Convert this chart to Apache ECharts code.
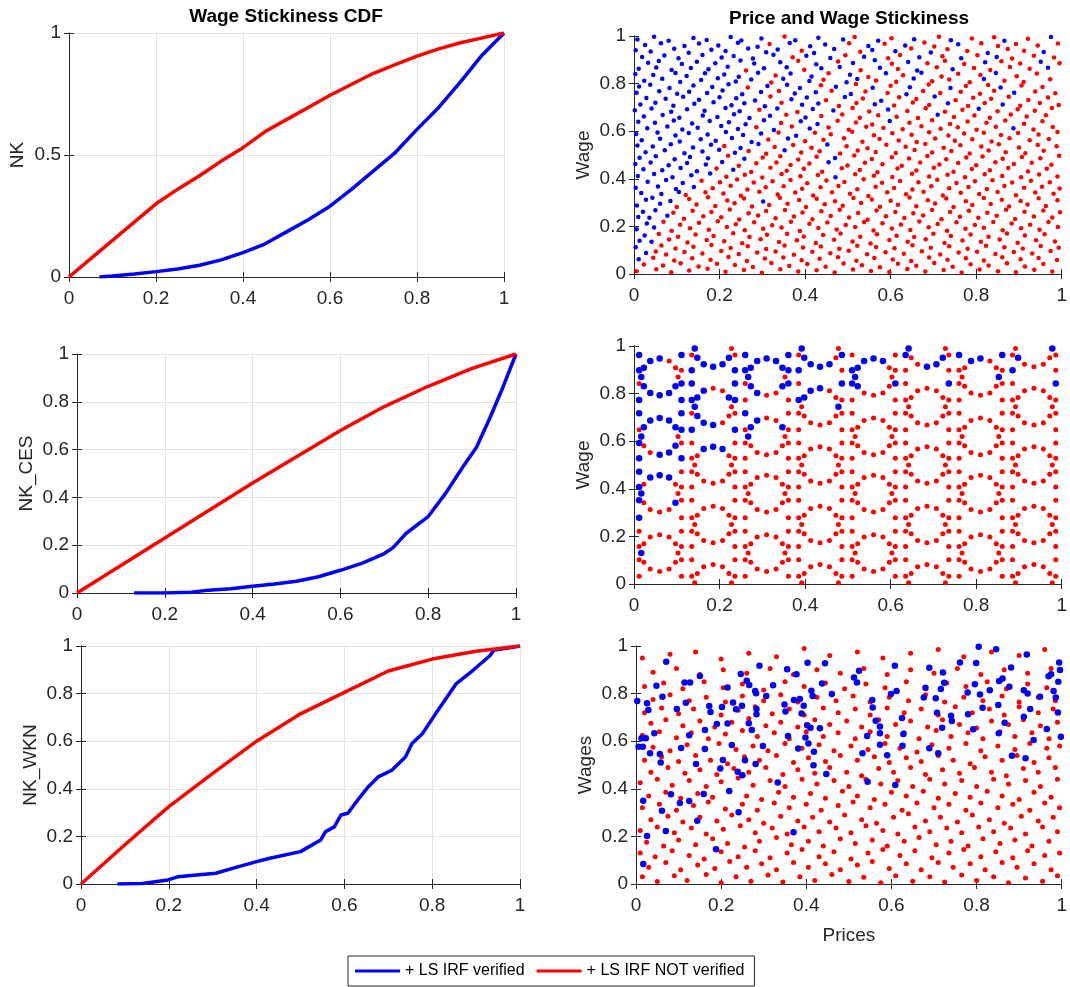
<!DOCTYPE html>
<html>
<head>
<meta charset="utf-8">
<title>Wage Stickiness</title>
<script src="https://cdn.jsdelivr.net/npm/echarts/dist/echarts.min.js"></script>
<style>
html, body { margin: 0; padding: 0; background: #ffffff; }
#chart { width: 1070px; height: 987px; }
</style>
</head>
<body>
<div id="chart"></div>
<script>
/* ---- tick labels ---- */
var ticksFine = [0, 0.2, 0.4, 0.6, 0.8, 1];
var ticksNK = [0, 0.5, 1];

/* ---- CDF curves (left column) ---- */
var nkBlueX = [0.07,0.1,0.15,0.2,0.25,0.3,0.35,0.4,0.45,0.5,0.55,0.6,0.65,0.7,0.75,0.8,0.85,0.9,0.95,1];
var nkBlueY = [0,0.004,0.012,0.022,0.033,0.048,0.07,0.1,0.135,0.185,0.235,0.29,0.36,0.435,0.51,0.605,0.695,0.8,0.91,1];
var nkRedX = [0,0.05,0.1,0.15,0.2,0.25,0.3,0.35,0.4,0.45,0.5,0.55,0.6,0.65,0.7,0.75,0.8,0.85,0.9,0.95,1];
var nkRedY = [0,0.075,0.15,0.225,0.3,0.36,0.415,0.475,0.53,0.595,0.645,0.695,0.745,0.79,0.835,0.87,0.905,0.935,0.96,0.98,1];

var cesBlueX = [0.13,0.2,0.26,0.3,0.35,0.4,0.45,0.5,0.55,0.6,0.65,0.7,0.72,0.75,0.8,0.84,0.88,0.91,0.94,0.97,1];
var cesBlueY = [0,0,0.003,0.012,0.018,0.028,0.038,0.049,0.068,0.095,0.125,0.165,0.19,0.25,0.32,0.418,0.53,0.61,0.73,0.86,1];
var cesRedX = [0,0.1,0.2,0.3,0.4,0.5,0.6,0.7,0.8,0.9,1];
var cesRedY = [0,0.115,0.23,0.345,0.46,0.57,0.68,0.78,0.865,0.94,1];

var wknBlueX = [0.083,0.14,0.198,0.22,0.307,0.353,0.4,0.43,0.5,0.546,0.557,0.577,0.592,0.608,0.63,0.654,0.677,0.708,0.739,0.754,0.778,0.808,0.855,0.893,0.932,0.94,1];
var wknBlueY = [0,0.002,0.017,0.03,0.045,0.07,0.094,0.108,0.136,0.185,0.22,0.24,0.29,0.297,0.352,0.408,0.45,0.478,0.534,0.59,0.632,0.716,0.842,0.898,0.96,0.982,1];
var wknRedX = [0,0.1,0.2,0.3,0.4,0.5,0.6,0.7,0.8,0.9,1];
var wknRedY = [0,0.165,0.325,0.465,0.6,0.715,0.805,0.895,0.945,0.978,1];

/* ---- scatter: price and wage stickiness, NK  [price, wage, verified] ---- */
var pwNK = [
[.008,.985,1],[.047,.997,1],[.081,.98,1],[.139,.992,1],[.17,.983,1],[.226,.996,1],[.251,.981,1],[.298,.99,1],[.352,.998,0],[.377,.982,1],[.431,.993,1],[.489,.985,1],[.516,.996,0],[.571,.98,1],[.602,.991,0],[.655,.986,1],[.713,.997,0],[.741,.982,1],[.79,.99,0],[.842,.995,0],[.866,.98,1],[.921,.988,0],[.975,.996,1],
[.026,.962,1],[.063,.97,1],[.118,.958,1],[.152,.968,1],[.197,.96,1],[.243,.972,1],[.289,.955,1],[.317,.966,0],[.364,.971,1],[.412,.957,1],[.447,.964,1],[.503,.97,0],[.548,.958,1],[.586,.967,0],[.634,.96,1],[.679,.973,0],[.702,.956,0],[.758,.965,1],[.812,.97,0],[.851,.958,0],[.893,.966,0],[.944,.96,0],[.991,.968,0],
[.004,.94,1],[.039,.935,1],[.094,.946,1],[.128,.93,1],[.181,.942,1],[.214,.937,1],[.267,.948,1],[.309,.932,1],[.336,.943,1],[.392,.938,0],[.421,.929,1],[.468,.945,1],[.529,.934,0],[.557,.941,1],[.611,.936,1],[.648,.947,0],[.694,.931,1],[.733,.944,0],[.779,.937,0],[.827,.929,1],[.874,.945,0],[.912,.938,0],[.958,.933,1],
[.019,.912,1],[.071,.918,1],[.104,.907,1],[.16,.92,1],[.205,.91,1],[.233,.916,1],[.278,.905,1],[.326,.921,1],[.371,.911,0],[.403,.917,1],[.459,.908,1],[.494,.919,0],[.538,.913,1],[.594,.906,0],[.622,.92,0],[.667,.911,1],[.721,.915,0],[.765,.907,1],[.803,.919,0],[.848,.912,1],[.884,.905,0],[.935,.917,0],[.982,.91,0],
[.033,.888,1],[.058,.895,1],[.112,.882,1],[.147,.892,1],[.19,.886,1],[.249,.897,1],[.281,.884,1],[.342,.89,1],[.384,.896,0],[.426,.881,1],[.477,.893,0],[.512,.887,1],[.563,.898,1],[.603,.883,0],[.641,.891,1],[.686,.885,0],[.727,.896,0],[.772,.882,0],[.821,.89,1],[.859,.894,0],[.903,.884,0],[.951,.892,1],[.995,.886,0],
[.011,.862,1],[.052,.868,1],[.088,.857,1],[.133,.866,1],[.174,.86,1],[.219,.871,1],[.262,.855,0],[.304,.865,1],[.357,.869,1],[.398,.858,0],[.438,.864,1],[.481,.87,1],[.53,.856,0],[.575,.867,1],[.617,.861,0],[.662,.855,1],[.708,.869,0],[.745,.86,1],[.795,.866,0],[.833,.857,0],[.879,.87,0],[.925,.862,0],[.968,.867,1],
[.003,.84,1],[.045,.836,1],[.097,.845,1],[.123,.832,1],[.166,.843,1],[.211,.838,1],[.245,.829,1],[.29,.846,1],[.331,.834,0],[.366,.842,1],[.415,.83,1],[.455,.844,0],[.505,.837,1],[.548,.828,0],[.589,.843,1],[.629,.835,0],[.672,.846,1],[.719,.83,0],[.758,.841,0],[.81,.836,0],[.846,.845,1],[.895,.831,0],[.942,.842,0],
[.024,.812,1],[.066,.82,1],[.108,.807,1],[.157,.815,1],[.196,.822,1],[.238,.809,1],[.274,.817,1],[.321,.805,0],[.349,.82,1],[.41,.811,1],[.443,.816,0],[.497,.806,1],[.522,.819,1],[.566,.813,0],[.613,.808,0],[.654,.821,1],[.697,.81,0],[.737,.817,0],[.785,.806,0],[.818,.819,1],[.866,.812,0],[.911,.807,0],[.973,.818,0],
[.012,.788,1],[.038,.795,1],[.083,.782,1],[.139,.792,1],[.183,.786,1],[.221,.797,1],[.266,.784,0],[.312,.79,1],[.358,.795,1],[.388,.781,1],[.437,.793,0],[.472,.787,1],[.519,.798,0],[.558,.783,1],[.6,.791,0],[.645,.785,1],[.689,.796,0],[.74,.782,1],[.776,.79,0],[.828,.794,0],[.857,.784,1],[.906,.792,0],[.955,.786,0],
[.006,.762,1],[.059,.768,1],[.101,.757,1],[.129,.766,1],[.171,.76,1],[.207,.771,1],[.253,.755,1],[.297,.765,1],[.339,.769,0],[.376,.758,1],[.425,.764,1],[.462,.77,0],[.507,.756,1],[.541,.767,0],[.593,.761,0],[.637,.755,1],[.676,.769,0],[.716,.76,0],[.764,.766,0],[.809,.757,0],[.842,.77,0],[.889,.762,1],[.938,.767,0],[.985,.759,0],
[.029,.74,1],[.074,.736,1],[.115,.745,1],[.152,.732,1],[.2,.743,1],[.239,.738,1],[.283,.729,1],[.319,.746,0],[.368,.734,1],[.404,.742,1],[.449,.73,0],[.493,.744,1],[.535,.737,0],[.578,.728,1],[.62,.743,0],[.66,.735,0],[.703,.746,1],[.752,.73,0],[.793,.741,0],[.835,.736,0],[.876,.745,0],[.922,.731,0],[.968,.742,0],
[.015,.712,1],[.05,.72,1],[.092,.707,1],[.141,.715,1],[.186,.722,1],[.228,.709,1],[.258,.717,1],[.306,.705,1],[.345,.72,0],[.393,.711,1],[.431,.716,1],[.479,.706,0],[.52,.719,0],[.563,.713,1],[.608,.708,0],[.652,.721,0],[.69,.71,0],[.734,.717,1],[.781,.706,0],[.82,.719,0],[.862,.712,1],[.903,.707,0],[.949,.718,0],[.993,.71,0],
[.002,.688,1],[.041,.695,1],[.087,.682,1],[.124,.692,1],[.165,.686,1],[.214,.697,1],[.247,.684,1],[.293,.69,0],[.335,.695,1],[.382,.681,0],[.418,.693,1],[.466,.687,1],[.511,.698,0],[.55,.683,0],[.594,.691,1],[.639,.685,0],[.682,.696,0],[.727,.682,0],[.768,.69,0],[.806,.694,1],[.85,.684,0],[.897,.692,0],[.937,.686,0],[.977,.697,0],
[.023,.662,1],[.067,.668,1],[.106,.657,1],[.161,.666,1],[.195,.66,1],[.234,.671,1],[.27,.655,1],[.318,.665,1],[.356,.669,0],[.401,.658,1],[.438,.664,0],[.487,.67,0],[.528,.656,0],[.571,.667,0],[.614,.661,0],[.664,.655,0],[.71,.669,1],[.748,.66,0],[.796,.666,0],[.832,.657,0],[.881,.67,0],[.918,.662,0],[.963,.667,0],
[.01,.64,1],[.049,.636,1],[.093,.645,1],[.136,.632,1],[.177,.643,1],[.222,.638,1],[.261,.629,1],[.304,.646,1],[.344,.634,0],[.39,.642,1],[.429,.63,1],[.476,.644,0],[.519,.637,0],[.557,.628,0],[.598,.643,1],[.644,.635,0],[.697,.646,0],[.739,.63,0],[.78,.641,0],[.824,.636,0],[.868,.645,0],[.912,.631,0],[.955,.642,0],
[.031,.612,1],[.078,.62,1],[.113,.607,1],[.149,.615,1],[.204,.622,1],[.243,.609,1],[.286,.617,0],[.327,.605,1],[.369,.62,0],[.411,.611,1],[.455,.616,0],[.502,.606,0],[.543,.619,0],[.583,.613,0],[.628,.608,0],[.672,.621,0],[.717,.61,0],[.757,.617,0],[.801,.606,0],[.846,.619,0],[.887,.612,1],[.934,.607,0],[.979,.618,0],
[.005,.588,1],[.055,.595,1],[.097,.582,1],[.128,.592,1],[.172,.586,1],[.215,.597,1],[.255,.584,1],[.297,.59,1],[.338,.595,0],[.379,.581,1],[.423,.593,0],[.46,.587,0],[.51,.598,0],[.561,.583,0],[.604,.591,0],[.649,.585,0],[.69,.596,0],[.735,.582,0],[.772,.59,0],[.818,.594,0],[.858,.584,0],[.898,.592,0],[.946,.586,0],[.99,.597,0],
[.018,.562,1],[.061,.568,1],[.107,.557,1],[.156,.566,1],[.191,.56,1],[.229,.571,1],[.275,.555,1],[.314,.565,0],[.36,.569,1],[.4,.558,0],[.443,.564,0],[.491,.57,0],[.534,.556,0],[.574,.567,0],[.619,.561,0],[.661,.555,0],[.704,.569,0],[.75,.56,0],[.791,.566,0],[.836,.557,0],[.878,.57,0],[.925,.562,0],[.97,.567,0],
[.008,.54,1],[.044,.536,1],[.086,.545,1],[.138,.532,1],[.18,.543,1],[.211,.538,0],[.249,.529,1],[.291,.546,1],[.329,.534,0],[.372,.542,0],[.415,.53,0],[.452,.544,1],[.497,.537,0],[.546,.528,0],[.59,.543,0],[.635,.535,0],[.681,.546,0],[.724,.53,0],[.763,.541,0],[.812,.536,0],[.853,.545,0],[.9,.531,0],[.944,.542,0],[.988,.537,0],
[.027,.512,1],[.072,.52,1],[.118,.507,1],[.16,.515,1],[.199,.522,1],[.236,.509,1],[.268,.517,0],[.309,.505,0],[.352,.52,1],[.391,.511,0],[.434,.516,0],[.482,.506,0],[.523,.519,0],[.565,.513,0],[.612,.508,0],[.656,.521,0],[.697,.51,0],[.742,.517,0],[.785,.506,0],[.829,.519,0],[.869,.512,0],[.915,.507,0],[.958,.518,0],
[.013,.488,1],[.051,.495,1],[.095,.482,1],[.131,.492,1],[.173,.486,1],[.22,.497,0],[.258,.484,1],[.301,.49,0],[.342,.495,0],[.384,.481,0],[.427,.493,0],[.47,.487,1],[.515,.498,0],[.556,.483,0],[.603,.491,0],[.643,.485,0],[.686,.496,0],[.73,.482,0],[.777,.49,0],[.815,.494,0],[.862,.484,0],[.907,.492,0],[.95,.486,0],[.994,.497,0],
[.003,.462,1],[.039,.468,1],[.081,.457,1],[.124,.466,1],[.168,.46,1],[.206,.471,1],[.245,.455,0],[.286,.465,0],[.333,.469,0],[.366,.458,0],[.41,.464,0],[.455,.47,1],[.499,.456,0],[.54,.467,0],[.581,.461,0],[.626,.455,0],[.669,.469,0],[.714,.46,0],[.758,.466,0],[.8,.457,0],[.845,.47,0],[.888,.462,0],[.93,.467,0],[.976,.459,0],
[.022,.44,1],[.066,.436,1],[.109,.445,1],[.147,.432,1],[.193,.443,0],[.232,.438,1],[.274,.429,0],[.319,.446,0],[.357,.434,0],[.397,.442,0],[.44,.43,0],[.486,.444,0],[.528,.437,0],[.569,.428,0],[.616,.443,0],[.66,.435,0],[.701,.446,0],[.747,.43,0],[.79,.441,0],[.832,.436,0],[.875,.445,0],[.921,.431,0],[.965,.442,0],
[.009,.412,1],[.047,.42,1],[.09,.407,1],[.134,.415,1],[.178,.422,1],[.216,.409,0],[.259,.417,0],[.3,.405,0],[.345,.42,0],[.389,.411,0],[.43,.416,0],[.471,.406,1],[.517,.419,0],[.561,.413,0],[.604,.408,0],[.65,.421,0],[.69,.41,0],[.733,.417,0],[.774,.406,0],[.82,.419,0],[.861,.412,0],[.905,.407,0],[.947,.418,0],[.99,.41,0],
[.032,.388,1],[.075,.395,1],[.114,.382,1],[.158,.392,0],[.201,.386,0],[.241,.397,0],[.28,.384,0],[.324,.39,0],[.366,.395,0],[.405,.381,0],[.45,.393,0],[.492,.387,0],[.537,.398,0],[.58,.383,0],[.622,.391,0],[.665,.385,0],[.709,.396,0],[.754,.382,0],[.797,.39,0],[.838,.394,0],[.884,.384,0],[.928,.392,0],[.972,.386,0],
[.004,.362,1],[.056,.368,1],[.098,.357,1],[.14,.366,1],[.184,.36,0],[.226,.371,0],[.265,.355,0],[.308,.365,0],[.35,.369,0],[.393,.358,0],[.436,.364,0],[.478,.37,0],[.522,.356,0],[.565,.367,0],[.608,.361,0],[.651,.355,0],[.695,.369,0],[.737,.36,0],[.782,.366,0],[.825,.357,0],[.866,.37,0],[.912,.362,0],[.954,.367,0],[.995,.359,0],
[.017,.34,1],[.064,.336,1],[.105,.345,1],[.121,.332,0],[.167,.343,0],[.209,.338,0],[.25,.329,0],[.293,.346,0],[.336,.334,0],[.377,.342,0],[.419,.33,0],[.463,.344,0],[.505,.337,0],[.548,.328,0],[.592,.343,0],[.636,.335,0],[.677,.346,0],[.722,.33,0],[.764,.341,0],[.807,.336,0],[.85,.345,0],[.893,.331,0],[.938,.342,0],[.981,.337,0],
[.028,.312,1],[.043,.32,1],[.085,.307,1],[.129,.315,0],[.173,.322,0],[.218,.309,0],[.257,.317,0],[.302,.305,1],[.341,.32,0],[.386,.311,0],[.427,.316,0],[.47,.306,0],[.513,.319,0],[.556,.313,0],[.6,.308,0],[.644,.321,0],[.687,.31,0],[.73,.317,0],[.776,.306,0],[.818,.319,0],[.86,.312,0],[.904,.307,0],[.946,.318,0],[.99,.31,0],
[.007,.288,1],[.061,.295,1],[.1,.282,0],[.146,.292,0],[.19,.286,0],[.235,.297,0],[.276,.284,0],[.316,.29,0],[.359,.295,0],[.402,.281,0],[.446,.293,0],[.488,.287,0],[.531,.298,0],[.575,.283,0],[.617,.291,0],[.66,.285,0],[.704,.296,0],[.747,.282,0],[.791,.29,0],[.834,.294,0],[.877,.284,0],[.92,.292,0],[.963,.286,0],
[.021,.262,1],[.05,.268,1],[.092,.257,0],[.137,.266,0],[.181,.26,0],[.224,.271,0],[.268,.255,0],[.309,.265,0],[.353,.269,0],[.394,.258,0],[.438,.264,0],[.481,.27,0],[.524,.256,0],[.567,.267,0],[.611,.261,0],[.653,.255,0],[.697,.269,0],[.739,.26,0],[.783,.266,0],[.826,.257,0],[.87,.27,0],[.913,.262,0],[.957,.267,0],[.996,.259,0],
[.01,.24,1],[.036,.236,1],[.078,.245,1],[.117,.232,0],[.162,.243,0],[.204,.238,0],[.246,.229,0],[.29,.246,0],[.331,.234,0],[.374,.242,0],[.417,.23,0],[.46,.244,0],[.503,.237,0],[.546,.228,0],[.589,.243,0],[.632,.235,0],[.676,.246,0],[.719,.23,0],[.762,.241,0],[.805,.236,0],[.848,.245,0],[.891,.231,0],[.935,.242,0],[.978,.237,0],
[.03,.212,1],[.069,.22,0],[.108,.207,0],[.152,.215,0],[.196,.222,0],[.238,.209,0],[.281,.217,0],[.323,.205,0],[.367,.22,0],[.41,.211,0],[.452,.216,0],[.495,.206,0],[.538,.219,0],[.581,.213,0],[.624,.208,0],[.667,.221,0],[.71,.21,0],[.754,.217,0],[.797,.206,0],[.84,.219,0],[.883,.212,0],[.926,.207,0],[.969,.218,0],
[.006,.188,1],[.047,.195,1],[.088,.182,0],[.131,.192,0],[.175,.186,0],[.217,.197,0],[.259,.184,0],[.302,.19,0],[.345,.195,0],[.388,.181,0],[.431,.193,0],[.474,.187,0],[.517,.198,0],[.56,.183,0],[.603,.191,0],[.646,.185,0],[.689,.196,0],[.732,.182,0],[.775,.19,0],[.818,.194,0],[.862,.184,0],[.905,.192,0],[.948,.186,0],[.991,.197,0],
[.025,.162,1],[.058,.168,0],[.103,.157,0],[.144,.166,0],[.186,.16,0],[.232,.171,0],[.27,.155,0],[.311,.165,0],[.358,.169,0],[.397,.158,0],[.442,.164,0],[.483,.17,0],[.529,.156,0],[.568,.167,0],[.614,.161,0],[.655,.155,0],[.7,.169,0],[.741,.16,0],[.787,.166,0],[.829,.157,0],[.872,.17,0],[.914,.162,0],[.96,.167,0],
[.013,.14,1],[.041,.136,1],[.082,.145,0],[.125,.132,0],[.17,.143,0],[.211,.138,0],[.253,.129,0],[.296,.146,0],[.339,.134,0],[.381,.142,0],[.425,.13,0],[.468,.144,0],[.511,.137,0],[.553,.128,0],[.597,.143,0],[.64,.135,0],[.682,.146,0],[.726,.13,0],[.768,.141,0],[.811,.136,0],[.855,.145,0],[.897,.131,0],[.94,.142,0],[.984,.137,0],
[.004,.112,1],[.064,.12,0],[.097,.107,0],[.139,.115,0],[.181,.122,0],[.226,.109,0],[.266,.117,0],[.309,.105,0],[.352,.12,0],[.395,.111,0],[.437,.116,0],[.48,.106,0],[.522,.119,0],[.566,.113,0],[.609,.108,0],[.651,.121,0],[.694,.11,0],[.737,.117,0],[.78,.106,0],[.823,.119,0],[.866,.112,0],[.909,.107,0],[.951,.118,0],[.993,.11,0],
[.028,.088,1],[.051,.095,0],[.075,.082,0],[.118,.092,0],[.16,.086,0],[.204,.097,0],[.245,.084,0],[.288,.09,0],[.331,.095,0],[.374,.081,0],[.417,.093,0],[.459,.087,0],[.502,.098,0],[.545,.083,0],[.588,.091,0],[.631,.085,0],[.673,.096,0],[.716,.082,0],[.759,.09,0],[.802,.094,0],[.845,.084,0],[.888,.092,0],[.931,.086,0],[.974,.097,0],
[.011,.062,1],[.045,.068,0],[.094,.057,0],[.136,.066,0],[.179,.06,0],[.221,.071,0],[.264,.055,0],[.306,.065,0],[.349,.069,0],[.392,.058,0],[.434,.064,0],[.477,.07,0],[.52,.056,0],[.562,.067,0],[.605,.061,0],[.648,.055,0],[.69,.069,0],[.733,.06,0],[.776,.066,0],[.818,.057,0],[.861,.07,0],[.904,.062,0],[.946,.067,0],[.989,.059,0],
[.023,.04,0],[.068,.036,0],[.109,.045,0],[.151,.032,0],[.194,.043,0],[.236,.038,0],[.278,.029,0],[.321,.046,0],[.363,.034,0],[.405,.042,0],[.448,.03,0],[.49,.044,0],[.533,.037,0],[.575,.028,0],[.617,.043,0],[.66,.035,0],[.702,.046,0],[.745,.03,0],[.787,.041,0],[.829,.036,0],[.872,.045,0],[.914,.031,0],[.957,.042,0],
[.006,.012,0],[.052,.02,0],[.087,.007,0],[.129,.015,0],[.172,.022,0],[.214,.009,0],[.257,.017,0],[.299,.005,0],[.342,.02,0],[.384,.011,0],[.427,.016,0],[.469,.006,0],[.512,.019,0],[.554,.013,0],[.597,.008,0],[.639,.021,0],[.681,.01,0],[.724,.017,0],[.766,.006,0],[.808,.019,0],[.851,.012,0],[.893,.007,0],[.936,.018,0],[.978,.01,0]
];

/* ---- scatter: NK_CES rings and clusters  [price, wage, verified] ---- */
var pwCES = [
[.103,.13,0],[.097,.169,0],[.082,.197,0],[.06,.207,0],[.038,.197,0],[.023,.169,0],[.017,.13,1],[.023,.091,0],[.038,.063,0],[.06,.053,0],[.082,.063,0],[.097,.091,0],
[.103,.38,0],[.097,.419,0],[.082,.447,1],[.06,.457,1],[.038,.447,1],[.023,.419,0],[.017,.38,1],[.023,.341,0],[.038,.313,0],[.06,.303,0],[.082,.313,0],[.097,.341,1],
[.103,.62,0],[.097,.659,1],[.082,.687,1],[.06,.697,1],[.038,.687,1],[.023,.659,1],[.017,.62,1],[.023,.581,0],[.038,.553,0],[.06,.543,1],[.082,.553,1],[.097,.581,1],
[.103,.87,0],[.097,.909,0],[.082,.937,0],[.06,.947,1],[.038,.937,1],[.023,.909,1],[.017,.87,1],[.023,.831,1],[.038,.803,1],[.06,.793,1],[.082,.803,1],[.097,.831,1],
[.353,.13,0],[.347,.169,0],[.332,.197,0],[.31,.207,0],[.288,.197,0],[.273,.169,0],[.267,.13,0],[.273,.091,0],[.288,.063,0],[.31,.053,0],[.332,.063,0],[.347,.091,0],
[.353,.38,0],[.347,.419,0],[.332,.447,0],[.31,.457,0],[.288,.447,0],[.273,.419,0],[.267,.38,0],[.273,.341,0],[.288,.313,0],[.31,.303,0],[.332,.313,0],[.347,.341,0],
[.353,.62,0],[.347,.659,1],[.332,.687,0],[.31,.697,0],[.288,.687,1],[.273,.659,1],[.267,.62,1],[.273,.581,0],[.288,.553,0],[.31,.543,0],[.332,.553,0],[.347,.581,0],
[.353,.87,0],[.347,.909,1],[.332,.937,1],[.31,.947,1],[.288,.937,1],[.273,.909,1],[.267,.87,1],[.273,.831,1],[.288,.803,1],[.31,.793,0],[.332,.803,0],[.347,.831,1],
[.603,.13,0],[.597,.169,0],[.582,.197,0],[.56,.207,0],[.538,.197,0],[.523,.169,0],[.517,.13,0],[.523,.091,0],[.538,.063,0],[.56,.053,0],[.582,.063,0],[.597,.091,0],
[.603,.38,0],[.597,.419,0],[.582,.447,0],[.56,.457,0],[.538,.447,0],[.523,.419,0],[.517,.38,0],[.523,.341,0],[.538,.313,0],[.56,.303,0],[.582,.313,0],[.597,.341,0],
[.603,.62,0],[.597,.659,0],[.582,.687,0],[.56,.697,0],[.538,.687,0],[.523,.659,0],[.517,.62,0],[.523,.581,0],[.538,.553,0],[.56,.543,0],[.582,.553,0],[.597,.581,0],
[.603,.87,0],[.597,.909,0],[.582,.937,1],[.56,.947,1],[.538,.937,1],[.523,.909,1],[.517,.87,1],[.523,.831,1],[.538,.803,0],[.56,.793,0],[.582,.803,0],[.597,.831,0],
[.853,.13,0],[.847,.169,0],[.832,.197,0],[.81,.207,0],[.788,.197,0],[.773,.169,0],[.767,.13,0],[.773,.091,0],[.788,.063,0],[.81,.053,0],[.832,.063,0],[.847,.091,0],
[.853,.38,0],[.847,.419,0],[.832,.447,0],[.81,.457,0],[.788,.447,0],[.773,.419,0],[.767,.38,0],[.773,.341,0],[.788,.313,0],[.81,.303,0],[.832,.313,0],[.847,.341,0],
[.853,.62,0],[.847,.659,0],[.832,.687,0],[.81,.697,0],[.788,.687,0],[.773,.659,0],[.767,.62,0],[.773,.581,0],[.788,.553,0],[.81,.543,0],[.832,.553,0],[.847,.581,0],
[.853,.87,1],[.847,.909,0],[.832,.937,0],[.81,.947,1],[.788,.937,1],[.773,.909,0],[.767,.87,0],[.773,.831,0],[.788,.803,0],[.81,.793,0],[.832,.803,0],[.847,.831,0],
[.228,.005,0],[.222,.044,0],[.207,.072,0],[.185,.082,0],[.163,.072,0],[.148,.044,0],[.142,.005,0],
[.228,.25,0],[.222,.289,0],[.207,.317,0],[.185,.327,0],[.163,.317,0],[.148,.289,0],[.142,.25,0],[.148,.211,0],[.163,.183,0],[.185,.173,0],[.207,.183,0],[.222,.211,0],
[.228,.5,0],[.222,.539,0],[.207,.567,1],[.185,.577,1],[.163,.567,1],[.148,.539,0],[.142,.5,0],[.148,.461,0],[.163,.433,0],[.185,.423,0],[.207,.433,0],[.222,.461,0],
[.228,.745,0],[.222,.784,1],[.207,.812,0],[.185,.822,0],[.163,.812,1],[.148,.784,1],[.142,.745,1],[.148,.706,1],[.163,.678,1],[.185,.668,1],[.207,.678,0],[.222,.706,0],
[.228,.99,0],[.142,.99,1],[.148,.951,1],[.163,.923,1],[.185,.913,1],[.207,.923,1],[.222,.951,1],
[.478,.005,0],[.472,.044,0],[.457,.072,0],[.435,.082,0],[.413,.072,0],[.398,.044,0],[.392,.005,0],
[.478,.25,0],[.472,.289,0],[.457,.317,0],[.435,.327,0],[.413,.317,0],[.398,.289,0],[.392,.25,0],[.398,.211,0],[.413,.183,0],[.435,.173,0],[.457,.183,0],[.472,.211,0],
[.478,.5,0],[.472,.539,0],[.457,.567,0],[.435,.577,0],[.413,.567,0],[.398,.539,0],[.392,.5,0],[.398,.461,0],[.413,.433,0],[.435,.423,0],[.457,.433,0],[.472,.461,0],
[.478,.745,1],[.472,.784,0],[.457,.812,0],[.435,.822,1],[.413,.812,1],[.398,.784,1],[.392,.745,0],[.398,.706,0],[.413,.678,0],[.435,.668,0],[.457,.678,0],[.472,.706,0],
[.478,.99,0],[.392,.99,1],[.398,.951,1],[.413,.923,1],[.435,.913,1],[.457,.923,1],[.472,.951,0],
[.728,.005,0],[.722,.044,0],[.707,.072,0],[.685,.082,0],[.663,.072,0],[.648,.044,0],[.642,.005,0],
[.728,.25,0],[.722,.289,0],[.707,.317,0],[.685,.327,0],[.663,.317,0],[.648,.289,0],[.642,.25,0],[.648,.211,0],[.663,.183,0],[.685,.173,0],[.707,.183,0],[.722,.211,0],
[.728,.5,0],[.722,.539,0],[.707,.567,0],[.685,.577,0],[.663,.567,0],[.648,.539,0],[.642,.5,0],[.648,.461,0],[.663,.433,0],[.685,.423,0],[.707,.433,0],[.722,.461,0],
[.728,.745,0],[.722,.784,0],[.707,.812,0],[.685,.822,0],[.663,.812,0],[.648,.784,0],[.642,.745,0],[.648,.706,0],[.663,.678,0],[.685,.668,0],[.707,.678,0],[.722,.706,0],
[.728,.99,0],[.642,.99,1],[.648,.951,0],[.663,.923,0],[.685,.913,1],[.707,.923,1],[.722,.951,1],
[.978,.005,0],[.972,.044,0],[.957,.072,0],[.935,.082,0],[.913,.072,0],[.898,.044,0],[.892,.005,0],
[.978,.25,0],[.972,.289,0],[.957,.317,0],[.935,.327,0],[.913,.317,0],[.898,.289,0],[.892,.25,0],[.898,.211,0],[.913,.183,0],[.935,.173,0],[.957,.183,0],[.972,.211,0],
[.978,.5,0],[.972,.539,0],[.957,.567,0],[.935,.577,0],[.913,.567,0],[.898,.539,0],[.892,.5,0],[.898,.461,0],[.913,.433,0],[.935,.423,0],[.957,.433,0],[.972,.461,0],
[.978,.745,0],[.972,.784,0],[.957,.812,0],[.935,.822,0],[.913,.812,0],[.898,.784,0],[.892,.745,0],[.898,.706,0],[.913,.678,0],[.935,.668,0],[.957,.678,0],[.972,.706,0],
[.978,.99,1],[.892,.99,0],[.898,.951,1],[.913,.923,0],[.935,.913,0],[.957,.923,0],[.972,.951,0],
[.012,.033,0],[.012,.102,0],[.012,.158,0],[.012,.222,0],[.012,.278,1],[.012,.352,1],[.012,.408,1],[.012,.472,1],
[.012,.528,1],[.012,.592,1],[.012,.648,0],[.012,.717,1],[.012,.773,1],[.012,.842,0],[.012,.898,1],[.012,.962,1],
[.111,.033,0],[.135,.033,0],[.111,.102,0],[.135,.102,0],[.111,.158,0],[.135,.158,0],[.111,.222,0],[.135,.222,0],
[.111,.278,0],[.135,.278,0],[.111,.352,0],[.135,.352,0],[.111,.408,0],[.135,.408,0],[.111,.472,0],[.135,.472,0],
[.111,.528,1],[.135,.528,0],[.111,.592,0],[.135,.592,0],[.111,.648,1],[.135,.648,1],[.111,.717,1],[.135,.717,0],
[.111,.773,1],[.135,.773,1],[.111,.842,1],[.135,.842,1],[.111,.898,0],[.135,.898,1],[.111,.962,1],[.135,.962,0],
[.236,.033,0],[.26,.033,0],[.236,.102,0],[.26,.102,0],[.236,.158,0],[.26,.158,0],[.236,.222,0],[.26,.222,0],
[.236,.278,0],[.26,.278,0],[.236,.352,0],[.26,.352,0],[.236,.408,0],[.26,.408,0],[.236,.472,0],[.26,.472,0],
[.236,.528,0],[.26,.528,0],[.236,.592,0],[.26,.592,0],[.236,.648,1],[.26,.648,0],[.236,.717,0],[.26,.717,1],
[.236,.773,1],[.26,.773,0],[.236,.842,1],[.26,.842,0],[.236,.898,1],[.26,.898,1],[.236,.962,0],[.26,.962,1],
[.361,.033,0],[.385,.033,0],[.361,.102,0],[.385,.102,0],[.361,.158,0],[.385,.158,0],[.361,.222,0],[.385,.222,0],
[.361,.278,0],[.385,.278,0],[.361,.352,0],[.385,.352,0],[.361,.408,0],[.385,.408,0],[.361,.472,0],[.385,.472,0],
[.361,.528,0],[.385,.528,0],[.361,.592,0],[.385,.592,0],[.361,.648,0],[.385,.648,0],[.361,.717,0],[.385,.717,0],
[.361,.773,0],[.385,.773,1],[.361,.842,1],[.385,.842,0],[.361,.898,1],[.385,.898,1],[.361,.962,1],[.385,.962,0],
[.486,.033,0],[.51,.033,0],[.486,.102,0],[.51,.102,0],[.486,.158,0],[.51,.158,0],[.486,.222,0],[.51,.222,0],
[.486,.278,0],[.51,.278,0],[.486,.352,0],[.51,.352,0],[.486,.408,0],[.51,.408,0],[.486,.472,0],[.51,.472,0],
[.486,.528,0],[.51,.528,0],[.486,.592,0],[.51,.592,0],[.486,.648,0],[.51,.648,0],[.486,.717,0],[.51,.717,0],
[.486,.773,0],[.51,.773,0],[.486,.842,1],[.51,.842,1],[.486,.898,0],[.51,.898,1],[.486,.962,1],[.51,.962,0],
[.611,.033,0],[.635,.033,0],[.611,.102,0],[.635,.102,0],[.611,.158,0],[.635,.158,0],[.611,.222,0],[.635,.222,0],
[.611,.278,0],[.635,.278,0],[.611,.352,0],[.635,.352,0],[.611,.408,0],[.635,.408,0],[.611,.472,0],[.635,.472,0],
[.611,.528,0],[.635,.528,0],[.611,.592,0],[.635,.592,0],[.611,.648,0],[.635,.648,0],[.611,.717,0],[.635,.717,0],
[.611,.773,0],[.635,.773,0],[.611,.842,1],[.635,.842,0],[.611,.898,0],[.635,.898,0],[.611,.962,0],[.635,.962,1],
[.736,.033,0],[.76,.033,0],[.736,.102,0],[.76,.102,0],[.736,.158,0],[.76,.158,0],[.736,.222,0],[.76,.222,0],
[.736,.278,0],[.76,.278,0],[.736,.352,0],[.76,.352,0],[.736,.408,0],[.76,.408,0],[.736,.472,0],[.76,.472,0],
[.736,.528,0],[.76,.528,0],[.736,.592,0],[.76,.592,0],[.736,.648,0],[.76,.648,0],[.736,.717,0],[.76,.717,0],
[.736,.773,0],[.76,.773,0],[.736,.842,1],[.76,.842,0],[.736,.898,0],[.76,.898,0],[.736,.962,0],[.76,.962,1],
[.861,.033,0],[.885,.033,0],[.861,.102,0],[.885,.102,0],[.861,.158,0],[.885,.158,0],[.861,.222,0],[.885,.222,0],
[.861,.278,0],[.885,.278,0],[.861,.352,0],[.885,.352,0],[.861,.408,0],[.885,.408,0],[.861,.472,0],[.885,.472,0],
[.861,.528,0],[.885,.528,0],[.861,.592,0],[.885,.592,0],[.861,.648,0],[.885,.648,0],[.861,.717,0],[.885,.717,0],
[.861,.773,0],[.885,.773,0],[.861,.842,0],[.885,.842,0],[.861,.898,0],[.885,.898,1],[.861,.962,1],[.885,.962,0],
[.986,.033,0],[.986,.102,0],[.986,.158,0],[.986,.222,0],[.986,.278,0],[.986,.352,0],[.986,.408,0],[.986,.472,0],
[.986,.528,0],[.986,.592,0],[.986,.648,0],[.986,.717,0],[.986,.773,0],[.986,.842,1],[.986,.898,0],[.986,.962,0]
];

/* ---- scatter: NK_WKN, verified points ---- */
var wknVerified = [
[.003,.769],[.026,.759],[.029,.731],[.017,.35],[.013,.612],[.023,.612],[.006,.577],[.016,.577],[.033,.549],[.043,.633],
[.048,.833],[.071,.934],[.062,.787],[.056,.546],[.058,.51],[.061,.308],[.07,.223],[.026,.202],[.017,.084],[.082,.377],
[.096,.735],[.106,.571],[.103,.34],[.114,.847],[.117,.762],[.127,.847],[.125,.625],[.125,.349],[.141,.504],[.144,.266],
[.15,.874],[.159,.378],[.162,.647],[.162,.567],[.172,.748],[.175,.723],[.19,.672],[.188,.146],[.198,.485],[.202,.744],
[.204,.521],[.215,.674],[.215,.826],[.219,.391],[.225,.584],[.228,.763],[.235,.734],[.246,.882],[.249,.749],[.239,.472],
[.25,.457],[.241,.301],[.256,.52],[.26,.854],[.266,.836],[.265,.675],[.272,.647],[.28,.811],[.282,.801],[.283,.713],
[.283,.735],[.281,.504],[.29,.917],[.298,.58],[.306,.79],[.322,.835],[.333,.426],[.349,.754],[.351,.725],[.355,.902],
[.357,.622],[.37,.217],[.371,.773],[.377,.881],[.381,.569],[.385,.777],[.389,.716],[.394,.749],[.398,.616],[.402,.667],
[.403,.93],[.405,.59],[.41,.657],[.412,.812],[.415,.79],[.418,.556],[.417,.499],[.432,.654],[.437,.842],[.444,.927],
[.447,.462],[.46,.798],[.512,.868],[.519,.847],[.524,.896],[.532,.549],[.544,.43],[.543,.622],[.555,.773],[.556,.742],
[.563,.686],[.573,.633],[.573,.662],[.573,.585],[.59,.541],[.599,.798],[.608,.917],[.612,.811],[.609,.416],[.625,.697],
[.628,.63],[.626,.581],[.676,.784],[.68,.825],[.689,.909],[.689,.57],[.704,.78],[.707,.72],[.71,.549],[.716,.819],
[.721,.889],[.724,.846],[.719,.657],[.74,.707],[.742,.685],[.761,.931],[.779,.805],[.78,.713],[.792,.65],[.799,.929],
[.796,.839],[.805,.997],[.808,.796],[.814,.741],[.831,.814],[.846,.986],[.851,.752],[.853,.853],[.861,.863],[.852,.633],
[.866,.678],[.877,.829],[.881,.91],[.883,.539],[.911,.814],[.911,.703],[.915,.528],[.918,.964],[.92,.8],[.926,.735],
[.934,.605],[.949,.787],[.965,.651],[.969,.873],[.975,.881],[.981,.811],[.986,.784],[.991,.721],[.992,.85],[.994,.931],
[.996,.899],[.998,.619]
];

/* ---- scatter: NK_WKN, not verified points ---- */
var wknNotVerified = [
[.015,.03],[.05,.01],[.09,.035],[.12,.015],[.165,.04],[.2,.005],[.235,.03],[.27,.012],[.31,.038],[.345,.008],[.385,.03],[.42,.015],[.46,.04],[.5,.01],[.535,.028],[.575,.005],[.61,.035],[.65,.012],[.69,.03],[.725,.008],[.765,.038],[.8,.015],[.84,.03],[.875,.005],[.915,.025],[.955,.012],[.99,.035],
[.03,.07],[.07,.09],[.105,.06],[.145,.08],[.185,.065],[.22,.095],[.26,.07],[.295,.085],[.33,.06],[.37,.09],[.405,.07],[.445,.085],[.48,.06],[.52,.08],[.555,.095],[.595,.065],[.635,.085],[.67,.06],[.71,.09],[.745,.07],[.785,.085],[.82,.06],[.86,.09],[.895,.07],[.935,.085],[.975,.06],
[.01,.13],[.045,.115],[.085,.14],[.125,.12],[.16,.105],[.2,.135],[.24,.115],[.28,.14],[.315,.11],[.355,.13],[.39,.145],[.43,.115],[.465,.135],[.505,.105],[.545,.13],[.58,.145],[.62,.12],[.655,.14],[.695,.11],[.735,.13],[.77,.145],[.81,.115],[.845,.135],[.885,.11],[.92,.14],[.96,.12],[.995,.13],
[.025,.175],[.065,.16],[.1,.185],[.14,.165],[.18,.19],[.215,.17],[.255,.155],[.29,.18],[.33,.195],[.365,.165],[.405,.18],[.44,.16],[.48,.19],[.515,.17],[.555,.185],[.59,.16],[.63,.18],[.665,.195],[.705,.165],[.74,.18],[.78,.16],[.815,.19],[.855,.17],[.89,.185],[.93,.16],[.97,.18],
[.01,.225],[.05,.24],[.09,.215],[.13,.235],[.165,.21],[.205,.23],[.245,.245],[.28,.215],[.32,.235],[.355,.21],[.395,.24],[.43,.22],[.47,.235],[.505,.215],[.54,.245],[.58,.225],[.615,.21],[.655,.24],[.69,.22],[.73,.235],[.765,.215],[.805,.24],[.84,.22],[.88,.235],[.915,.21],[.955,.24],[.99,.22],
[.035,.27],[.075,.285],[.11,.26],[.15,.28],[.19,.265],[.225,.29],[.265,.27],[.3,.255],[.34,.285],[.38,.265],[.415,.28],[.455,.26],[.49,.29],[.53,.27],[.565,.255],[.605,.28],[.64,.295],[.68,.265],[.715,.28],[.755,.26],[.79,.29],[.83,.27],[.865,.255],[.905,.285],[.945,.265],[.98,.28],
[.015,.32],[.055,.335],[.095,.31],[.135,.33],[.17,.345],[.21,.315],[.25,.335],[.285,.31],[.325,.34],[.36,.32],[.4,.335],[.435,.31],[.475,.33],[.51,.345],[.55,.32],[.585,.335],[.625,.31],[.66,.34],[.7,.32],[.735,.335],[.775,.31],[.81,.34],[.85,.32],[.885,.335],[.925,.31],[.96,.34],[.995,.32],
[.03,.37],[.07,.385],[.105,.36],[.145,.38],[.18,.365],[.22,.39],[.26,.37],[.295,.355],[.335,.385],[.37,.365],[.41,.38],[.445,.36],[.485,.39],[.52,.37],[.56,.355],[.6,.385],[.635,.37],[.675,.39],[.71,.36],[.75,.38],[.785,.365],[.825,.39],[.86,.37],[.9,.355],[.935,.385],[.975,.365],
[.01,.425],[.05,.44],[.085,.415],[.125,.435],[.165,.41],[.2,.43],[.24,.445],[.275,.415],[.315,.435],[.35,.41],[.39,.44],[.425,.42],[.465,.435],[.5,.41],[.54,.44],[.575,.42],[.615,.435],[.65,.41],[.69,.44],[.725,.42],[.765,.435],[.8,.41],[.84,.44],[.875,.42],[.915,.435],[.95,.41],[.99,.44],
[.035,.47],[.075,.49],[.115,.465],[.15,.48],[.19,.46],[.23,.485],[.265,.47],[.305,.49],[.345,.46],[.38,.48],[.42,.465],[.455,.49],[.495,.47],[.53,.455],[.57,.485],[.605,.47],[.645,.49],[.68,.46],[.72,.48],[.76,.465],[.795,.49],[.835,.47],[.87,.455],[.91,.485],[.945,.47],[.985,.49],
[.02,.52],[.06,.535],[.1,.515],[.14,.54],[.175,.52],[.215,.505],[.255,.535],[.29,.52],[.33,.54],[.37,.51],[.405,.53],[.445,.515],[.48,.54],[.52,.52],[.56,.535],[.595,.51],[.635,.53],[.67,.515],[.71,.54],[.745,.52],[.785,.505],[.82,.535],[.86,.52],[.895,.54],[.935,.51],[.97,.53],
[.04,.575],[.08,.56],[.12,.585],[.16,.57],[.195,.59],[.235,.565],[.275,.58],[.31,.56],[.35,.59],[.39,.57],[.43,.585],[.465,.56],[.505,.58],[.545,.565],[.585,.59],[.62,.57],[.66,.555],[.695,.585],[.735,.57],[.775,.59],[.81,.56],[.85,.58],[.89,.565],[.925,.59],[.965,.57],[.995,.58],
[.015,.625],[.055,.64],[.095,.615],[.13,.635],[.17,.61],[.21,.63],[.25,.645],[.285,.62],[.325,.635],[.36,.61],[.4,.64],[.44,.62],[.475,.635],[.515,.61],[.55,.64],[.59,.62],[.63,.635],[.665,.61],[.705,.645],[.74,.62],[.78,.635],[.815,.61],[.855,.64],[.89,.62],[.93,.635],[.97,.61],
[.035,.675],[.07,.69],[.11,.665],[.15,.685],[.185,.66],[.225,.68],[.265,.695],[.305,.665],[.34,.68],[.38,.66],[.42,.69],[.455,.67],[.495,.685],[.53,.66],[.57,.69],[.61,.67],[.645,.685],[.685,.66],[.72,.69],[.76,.67],[.8,.655],[.835,.685],[.875,.67],[.91,.69],[.95,.665],[.99,.68],
[.02,.72],[.06,.74],[.1,.715],[.135,.735],[.2,.71],[.24,.73],[.28,.745],[.32,.715],[.36,.735],[.395,.71],[.44,.74],[.475,.72],[.515,.735],[.55,.71],[.59,.74],[.63,.72],[.67,.735],[.71,.71],[.75,.745],[.79,.72],[.83,.735],[.865,.71],[.9,.745],[.945,.72],[.98,.735],
[.04,.775],[.08,.795],[.125,.77],[.165,.785],[.21,.765],[.25,.79],[.3,.77],[.34,.795],[.38,.765],[.425,.785],[.47,.77],[.51,.79],[.55,.765],[.595,.785],[.64,.77],[.68,.795],[.725,.765],[.77,.785],[.815,.77],[.86,.79],[.9,.765],[.945,.785],[.985,.77],
[.02,.83],[.065,.845],[.11,.82],[.16,.85],[.205,.825],[.25,.84],[.3,.815],[.35,.85],[.395,.83],[.445,.845],[.49,.82],[.54,.84],[.585,.825],[.635,.85],[.68,.82],[.73,.845],[.775,.83],[.825,.85],[.87,.82],[.92,.84],[.965,.825],
[.04,.89],[.095,.905],[.15,.88],[.205,.9],[.26,.885],[.315,.905],[.37,.88],[.425,.9],[.48,.885],[.535,.905],[.59,.88],[.645,.9],[.7,.885],[.755,.905],[.81,.88],[.865,.9],[.92,.885],[.975,.905],
[.015,.95],[.08,.965],[.14,.975],[.2,.945],[.265,.97],[.33,.955],[.395,.99],[.455,.96],[.52,.975],[.58,.95],[.645,.97],[.71,.985],[.77,.955],[.835,.975],[.9,.96],[.96,.985]
];

var nameVerified = '+ LS IRF verified';
var nameNotVerified = '+ LS IRF NOT verified';
var colBlue = '#0000ff';
var colRed = '#ff0000';
var txtCol = '#262626';
var fontFam = 'Liberation Sans, Arial, Helvetica, sans-serif';

function zip(xs, ys)
{
    var out = [];
    for (var i = 0; i < xs.length; i++) {
        out.push([xs[i], ys[i]]);
    }
    return out;
}

function pick(rows, flag)
{
    var out = [];
    for (var i = 0; i < rows.length; i++) {
        if (rows[i][2] == flag) out.push([rows[i][0], rows[i][1]]);
    }
    return out;
}

/* one box per panel: left, top, width, height in px */
var panels = [
    {left: 69,  top: 33,  width: 435, height: 244, yTicks: ticksNK,   yName: 'NK',     nameGap: 42, gridLines: true},
    {left: 77,  top: 354, width: 439, height: 239, yTicks: ticksFine, yName: 'NK_CES', nameGap: 41, gridLines: true},
    {left: 81,  top: 646, width: 439, height: 238, yTicks: ticksFine, yName: 'NK_WKN', nameGap: 41, gridLines: true},
    {left: 634, top: 36,  width: 429, height: 238, yTicks: ticksFine, yName: 'Wage',   nameGap: 41, gridLines: false},
    {left: 634, top: 346, width: 428, height: 238, yTicks: ticksFine, yName: 'Wage',   nameGap: 41, gridLines: false},
    {left: 636, top: 646, width: 429, height: 238, yTicks: ticksFine, yName: 'Wages',  nameGap: 41, gridLines: false}
];

var option = {
    animation: false,
    backgroundColor: '#ffffff',
    textStyle: {fontFamily: fontFam},
    title: [
        {text: 'Wage Stickiness CDF', left: 286, top: 7, textAlign: 'center', padding: 0,
         textStyle: {fontSize: 19, fontWeight: 'bold', color: '#000', fontFamily: fontFam}},
        {text: 'Price and Wage Stickiness', left: 849, top: 9, textAlign: 'center', padding: 0,
         textStyle: {fontSize: 19, fontWeight: 'bold', color: '#000', fontFamily: fontFam}}
    ],
    legend: {
        data: [
            {name: nameVerified, icon: 'rect', itemStyle: {color: colBlue}},
            {name: nameNotVerified, icon: 'rect', itemStyle: {color: colRed}}
        ],
        left: 348, top: 956,
        padding: [6, 10, 6, 7],
        itemWidth: 45, itemHeight: 3, itemGap: 12,
        borderColor: '#262626', borderWidth: 1,
        selectedMode: false,
        textStyle: {fontSize: 16, color: '#000', fontFamily: fontFam, lineHeight: 18}
    },
    grid: [], xAxis: [], yAxis: [], series: []
};

for (var p = 0; p < panels.length; p++)
{
    var pn = panels[p];
    var yInt = pn.yTicks[1] - pn.yTicks[0];
    option.grid.push({left: pn.left, top: pn.top, width: pn.width, height: pn.height, containLabel: false});

    var lineSt = {show: true, lineStyle: {color: txtCol, width: 1}};
    var tickSt = {show: true, inside: true, length: 5, lineStyle: {color: txtCol}};

    /* bottom + top x axes */
    option.xAxis.push({
        gridIndex: p, type: 'value', min: ticksFine[0], max: ticksFine[ticksFine.length - 1], interval: 0.2,
        axisLine: lineSt, axisTick: tickSt,
        axisLabel: {color: txtCol, fontSize: 19, margin: 12, fontFamily: fontFam},
        splitLine: {show: pn.gridLines, lineStyle: {color: '#e3e3e3'}},
        name: (p == 5 ? 'Prices' : ''), nameLocation: 'middle', nameGap: 42,
        nameTextStyle: {fontSize: 19, color: txtCol, fontFamily: fontFam}
    });
    option.xAxis.push({
        gridIndex: p, type: 'value', position: 'top', min: 0, max: 1, interval: 0.2,
        axisLine: lineSt, axisTick: tickSt, axisLabel: {show: false}, splitLine: {show: false}
    });

    /* left + right y axes */
    option.yAxis.push({
        gridIndex: p, type: 'value', min: pn.yTicks[0], max: pn.yTicks[pn.yTicks.length - 1], interval: yInt,
        axisLine: lineSt, axisTick: tickSt,
        axisLabel: {color: txtCol, fontSize: 19, margin: 8, fontFamily: fontFam},
        splitLine: {show: pn.gridLines, lineStyle: {color: '#e3e3e3'}},
        name: pn.yName, nameLocation: 'middle', nameGap: pn.nameGap, nameRotate: 90,
        nameTextStyle: {fontSize: 19, color: txtCol, fontFamily: fontFam}
    });
    option.yAxis.push({
        gridIndex: p, type: 'value', position: 'right', min: 0, max: 1, interval: yInt,
        axisLine: lineSt, axisTick: tickSt, axisLabel: {show: false}, splitLine: {show: false}
    });
}

function addLine(panel, name, color, data)
{
    option.series.push({
        name: name, type: 'line', xAxisIndex: panel * 2, yAxisIndex: panel * 2,
        data: data, symbol: 'none', smooth: false,
        lineStyle: {color: color, width: 3.5}, itemStyle: {color: color}, z: 3
    });
}

function addDots(panel, name, color, size, data)
{
    option.series.push({
        name: name, type: 'scatter', xAxisIndex: panel * 2, yAxisIndex: panel * 2,
        data: data, symbol: 'circle', symbolSize: size,
        itemStyle: {color: color, opacity: 1}, z: 3
    });
}

/* CDF panels */
addLine(0, nameVerified, colBlue, zip(nkBlueX, nkBlueY));
addLine(0, nameNotVerified, colRed, zip(nkRedX, nkRedY));
addLine(1, nameVerified, colBlue, zip(cesBlueX, cesBlueY));
addLine(1, nameNotVerified, colRed, zip(cesRedX, cesRedY));
addLine(2, nameVerified, colBlue, zip(wknBlueX, wknBlueY));
addLine(2, nameNotVerified, colRed, zip(wknRedX, wknRedY));

/* scatter panels */
addDots(3, 'nk_red', colRed, 4.5, pick(pwNK, 0));
addDots(3, 'nk_blue', colBlue, 4.5, pick(pwNK, 1));
addDots(4, 'ces_red', colRed, 5, pick(pwCES, 0));
addDots(4, 'ces_blue', colBlue, 6.5, pick(pwCES, 1));
addDots(5, 'wkn_red', colRed, 5, wknNotVerified);
addDots(5, 'wkn_blue', colBlue, 6.5, wknVerified);

var chart = document.getElementById('chart');
var myChart = echarts.init(chart, null, {renderer: 'canvas'});
myChart.setOption(option);
</script>
</body>
</html>
